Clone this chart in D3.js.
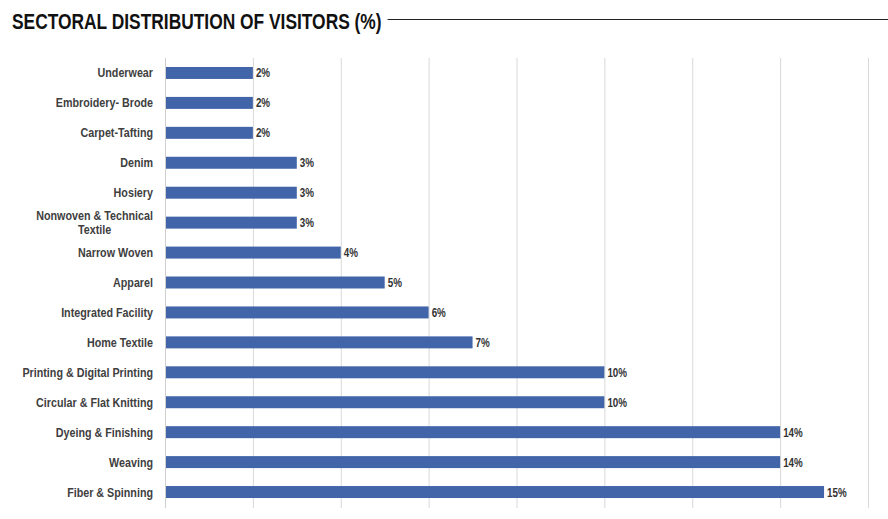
<!DOCTYPE html>
<html><head><meta charset="utf-8">
<script src="https://cdn.jsdelivr.net/npm/d3@7"></script>
<style>
body{margin:0;background:#fff;}
svg{display:block;}
text{font-family:"Liberation Sans",Arial,sans-serif;font-weight:bold;}
</style></head>
<body><svg id="c" width="888" height="519"></svg>
<script>
const title = "SECTORAL DISTRIBUTION OF VISITORS (%)";
const categories = ["Underwear","Embroidery- Brode","Carpet-Tafting","Denim","Hosiery","Nonwoven & Technical|Textile","Narrow Woven","Apparel","Integrated Facility","Home Textile","Printing & Digital Printing","Circular & Flat Knitting","Dyeing & Finishing","Weaving","Fiber & Spinning"];
const values = [2,2,2,3,3,3,4,5,6,7,10,10,14,14,15];
const gridTicks = [0,2,4,6,8,10,12,14,16];

const svg = d3.select("#c");
const x = d3.scaleLinear().domain([0,16]).range([165,868]);
const y = d3.scaleBand().domain(categories).range([58,507]).paddingInner(0.6).paddingOuter(0.3);

function ctext(parent, str, px, py, size, sx, anchor, fill){
  return parent.append("text")
    .attr("transform",`translate(${px},${py}) scale(${sx},1)`)
    .attr("text-anchor",anchor).attr("font-size",size).attr("fill",fill).text(str);
}

// title
const TS = 0.79;
const t = ctext(svg, title, 12, 28.5, 22, TS, "start", "#111");
const tw = t.node().getBBox().width*TS;
svg.append("line").attr("x1",12+tw+6).attr("x2",888).attr("y1",19.5).attr("y2",19.5).attr("stroke","#222").attr("stroke-width",1.2);

// gridlines
svg.append("g").selectAll("line").data(gridTicks).join("line")
  .attr("x1",d=>x(d)+0.5).attr("x2",d=>x(d)+0.5).attr("y1",58).attr("y2",508)
  .attr("stroke",d=>d===0?"#cfcfcf":"#d9d9d9").attr("stroke-width",1);

// bars
svg.append("g").selectAll("rect").data(values).join("rect")
  .attr("x",x(0)+1).attr("y",(d,i)=>y(categories[i]))
  .attr("width",d=>x(d)-x(0)-1).attr("height",y.bandwidth())
  .attr("fill","#4165a8");

// value labels
const vl = svg.append("g");
values.forEach((d,i)=>{
  ctext(vl, d+"%", x(d)+3, y(categories[i])+y.bandwidth()/2+4.5, 12, 0.82, "start", "#333");
});

// category labels
const lab = svg.append("g");
const S = 0.86;
categories.forEach((c,i)=>{
  const lines = c.split("|");
  const cy = y(c)+y.bandwidth()/2;
  if(lines.length===1){
    ctext(lab, c, 153, cy+4.5, 12.5, S, "end", "#404040");
  } else {
    const tmp = lab.append("text").attr("font-size",12.5).text(lines[0]);
    const w = tmp.node().getComputedTextLength()*S; tmp.remove();
    const cx = 153 - w/2;
    lines.forEach((l,k)=>{
      ctext(lab, l, cx, cy-2.5+k*14, 12.5, S, "middle", "#404040");
    });
  }
});
</script></body></html>
